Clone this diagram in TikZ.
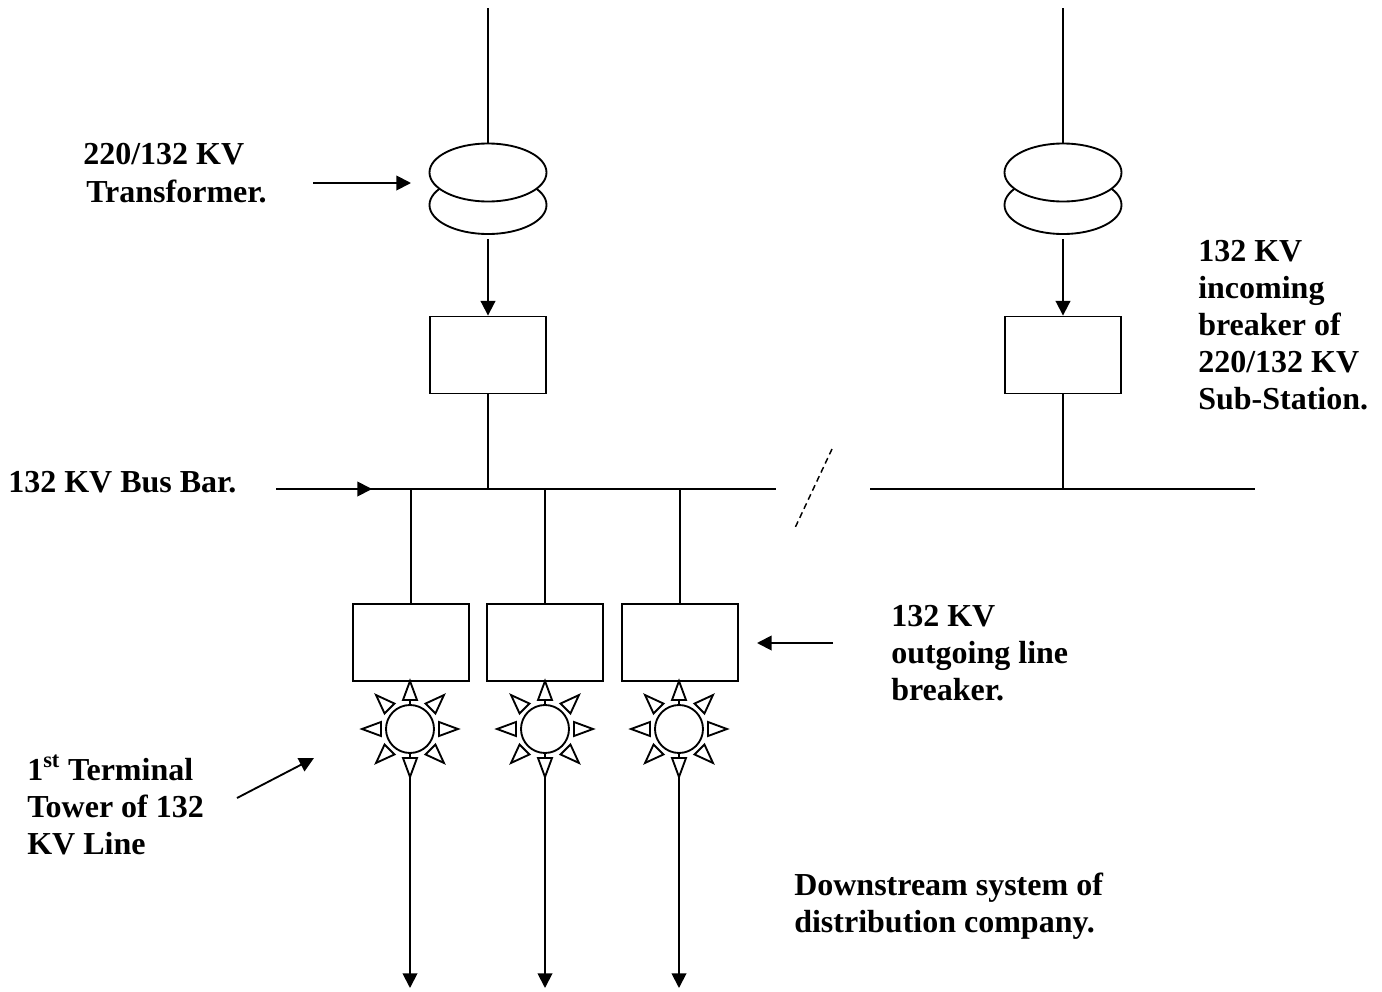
\documentclass[tikz,border=0pt]{standalone}
\usepackage{fontspec}
\setmainfont{Liberation Serif}
\usetikzlibrary{arrows.meta,calc,shapes.geometric}
\tikzset{
  x=0.75pt,y=-0.75pt,
  wire/.style={line width=1.4pt},
  arr/.style={wire,-{Triangle[length=11pt,width=11pt]}},
  box/.style={draw,line width=1.4pt,minimum width=87pt,minimum height=57.75pt,inner sep=0pt},
  coil/.style={draw,line width=1.4pt,ellipse,minimum width=87.75pt,minimum height=43.5pt,inner sep=0pt,fill=white},
  lbl/.style={anchor=base west,font=\bfseries\fontsize{24pt}{24pt}\selectfont,inner sep=0pt,align=left},
  tower/.style={draw,line width=1.4pt,circle,minimum size=36pt,inner sep=0pt},
}
\newcommand{\rays}[1]{%
  \foreach \a in {0,45,...,315}{
    \draw[line width=1.4pt,line join=miter] ($(#1)+(\a:21.75pt)+(\a+90:5.25pt)$) -- ($(#1)+(\a:36pt)$) -- ($(#1)+(\a:21.75pt)+(\a-90:5.25pt)$) -- cycle;
  }
}
\begin{document}
\begin{tikzpicture}
\useasboundingbox (0,0) rectangle (1382,992);
% transformers
\node[coil] (t1b) at (488,205) {};
\node[coil] (t1a) at (488,172.5) {};
\node[coil] (t2b) at (1063,205) {};
\node[coil] (t2a) at (1063,172.5) {};
\coordinate (top1) at (488,8);
\coordinate (top2) at (1063,8);
\draw[wire] (top1) -- (t1a.north);
\draw[wire] (top2) -- (t2a.north);
% incoming breakers
\node[box] (b1) at (488,355) {};
\node[box] (b2) at (1063,355) {};
\coordinate (g1) at (488,239);
\coordinate (g2) at (1063,239);
\draw[arr] (g1) -- (b1.north);
\draw[arr] (g2) -- (b2.north);
% bus
\coordinate (busL) at (276,489);
\coordinate (busM) at (776,489);
\coordinate (busN) at (870,489);
\coordinate (busR) at (1255,489);
\draw[wire] (busL) -- (busM);
\draw[wire] (busN) -- (busR);
\coordinate (busArrow) at (372,489);
\draw[arr] (busL) -- (busArrow);
\draw[wire] (b1.south) -- (b1.south |- busL);
\draw[wire] (b2.south) -- (b2.south |- busL);
\coordinate (d1) at (832,449);
\coordinate (d2) at (794,530);
\draw[line width=1.1pt,dash pattern=on 4.5pt off 3pt] (d1) -- (d2);
% outgoing
\foreach \n/\x/\m in {1/411/410,2/545/545,3/680/679}{
  \node[box] (o\n) at (\x,642.5) {};
  \draw[wire] (o\n.north) -- (o\n.north |- busL);
  \node[tower] (c\n) at (\m,729) {};
  \rays{c\n}
  \coordinate (s\n) at (\m,701);
  \draw[wire] (c\n.north) -- (s\n);
  \coordinate (u\n) at (\m,758);
  \draw[wire] (c\n.south) -- (u\n);
  \coordinate (a\n) at (\m,777);
  \coordinate (e\n) at (\m,988);
  \draw[arr] (a\n) -- (e\n);
}
% labels
\node[lbl] (l1) at (83,164) {220/132 KV};
\node[lbl] (l2) at (86,202) {Transformer.};
\node[lbl] (l3) at (1198,261) {132 KV};
\node[lbl] (l4) at (1198,298) {incoming};
\node[lbl] (l5) at (1198,335) {breaker of};
\node[lbl] (l6) at (1198,372) {220/132 KV};
\node[lbl] (l7) at (1198,409) {Sub-Station.};
\node[lbl] (l8) at (8,492) {132 KV Bus Bar.};
\node[lbl] (l9) at (891,626) {132 KV};
\node[lbl] (l10) at (891,663) {outgoing line};
\node[lbl] (l11) at (891,700) {breaker.};
\node[lbl] (l12) at (27,780) {1\textsuperscript{st} Terminal};
\node[lbl] (l13) at (27,817) {Tower of 132};
\node[lbl] (l14) at (27,854) {KV Line};
\node[lbl] (l15) at (794,895) {Downstream system of};
\node[lbl] (l16) at (794,932) {distribution company.};
% pointer arrows
\coordinate (p1) at (313,183);
\coordinate (p1e) at (411,183);
\draw[arr] (p1) -- (p1e);
\coordinate (p2) at (833,643);
\coordinate (p2e) at (757,643);
\draw[arr] (p2) -- (p2e);
\coordinate (p3) at (237,798);
\coordinate (p3e) at (314,758);
\draw[arr] (p3) -- (p3e);
\end{tikzpicture}
\end{document}
